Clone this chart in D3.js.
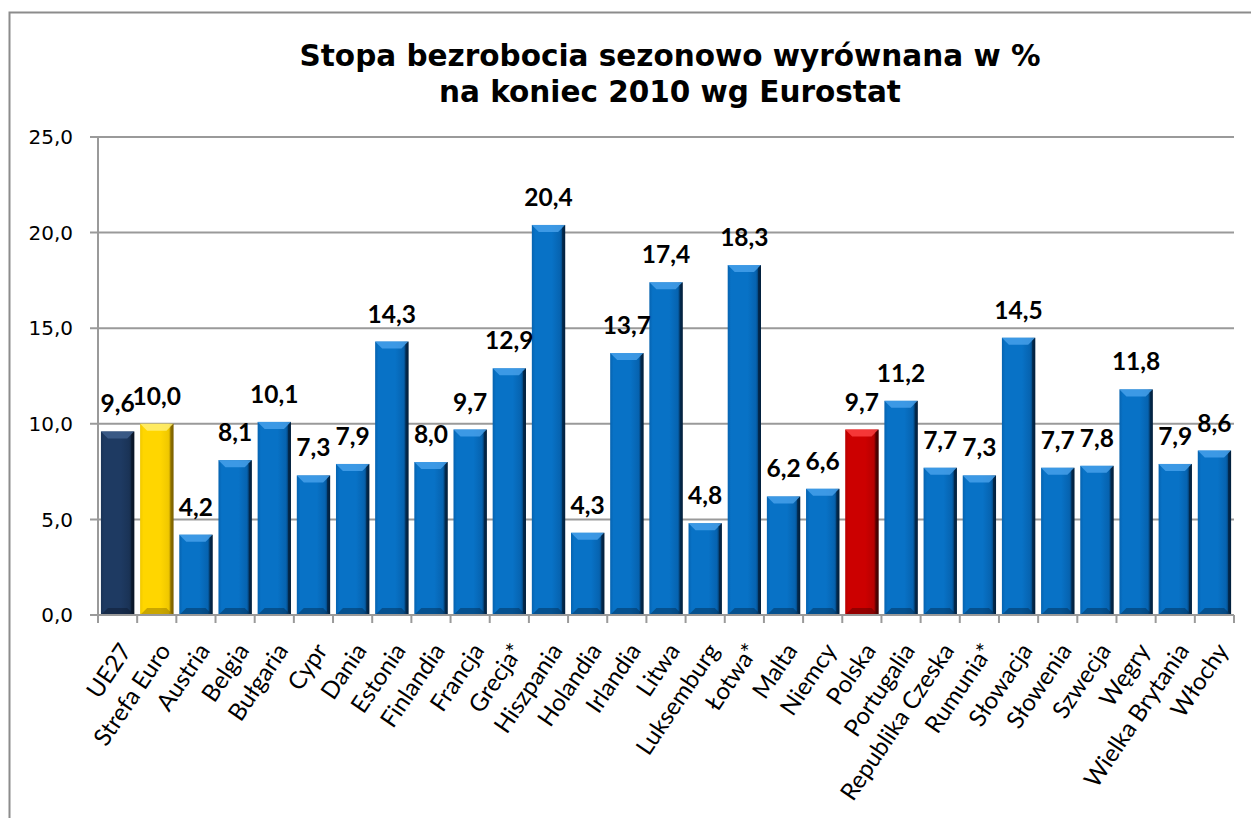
<!DOCTYPE html>
<html><head><meta charset="utf-8">
<script src="https://cdn.jsdelivr.net/npm/d3@7"></script>
<style>body{margin:0;background:#fff;}svg{display:block;}</style>
</head><body>
<script>
const categories = ["UE27","Strefa Euro","Austria","Belgia","Bułgaria","Cypr","Dania","Estonia","Finlandia","Francja","Grecja*","Hiszpania","Holandia","Irlandia","Litwa","Luksemburg","Łotwa*","Malta","Niemcy","Polska","Portugalia","Republika Czeska","Rumunia*","Słowacja","Słowenia","Szwecja","Węgry","Wielka Brytania","Włochy"];
const values = [9.6,10.0,4.2,8.1,10.1,7.3,7.9,14.3,8.0,9.7,12.9,20.4,4.3,13.7,17.4,4.8,18.3,6.2,6.6,9.7,11.2,7.7,7.3,14.5,7.7,7.8,11.8,7.9,8.6];
const yTicks = [0,5,10,15,20,25];
const titleLines = ["Stopa bezrobocia sezonowo wyrównana w %","na koniec 2010 wg Eurostat"];
const highlight = {"UE27":"navy","Strefa Euro":"gold","Polska":"red"};

const W=1251,H=818;
const svg=d3.select("body").append("svg").attr("width",W).attr("height",H);
svg.append("rect").attr("x",9.5).attr("y",12.5).attr("width",W).attr("height",H).attr("fill","#fff").attr("stroke","#8c8c8c").attr("stroke-width",2);

const m={left:98,right:1234,top:137,bottom:615};
const x=d3.scaleBand().domain(categories).range([m.left,m.right]).paddingInner(0.15).paddingOuter(0.075);
const y=d3.scaleLinear().domain([0,25]).range([m.bottom,m.top]);

const pal={
 blue:{base:"#0872c6",light:"#4aa3ec",dark:"#03203c",mid:"#0663b0"},
 navy:{base:"#1e3a62",light:"#41628f",dark:"#0a1526",mid:"#1a3356"},
 gold:{base:"#ffd600",light:"#fff07a",dark:"#7a6000",mid:"#f0c800"},
 red:{base:"#cc0000",light:"#ff4545",dark:"#420000",mid:"#b80000"}
};
const defs=svg.append("defs");
Object.entries(pal).forEach(([k,c])=>{
  const g=defs.append("linearGradient").attr("id","g-"+k).attr("x1",0).attr("x2",1).attr("y1",0).attr("y2",0);
  [[0,c.mid],[0.1,c.base],[0.6,c.base],[0.85,c.mid],[1,c.dark]].forEach(([o,col])=>g.append("stop").attr("offset",o).attr("stop-color",col));
});

const grid=svg.append("g");
yTicks.forEach(t=>{
  grid.append("line").attr("x1",m.left-8).attr("x2",m.right).attr("y1",y(t)).attr("y2",y(t)).attr("stroke","#9a9a9a").attr("stroke-width",2);
});
svg.append("line").attr("x1",m.left).attr("x2",m.left).attr("y1",m.top).attr("y2",m.bottom).attr("stroke","#9a9a9a").attr("stroke-width",2);
svg.append("g").selectAll("text").data(yTicks).join("text")
  .attr("x",m.left-25).attr("y",d=>y(d)).attr("dy","0.36em").attr("text-anchor","end")
  .attr("font-family","DejaVu Sans, Verdana, sans-serif").attr("font-size",20).attr("fill","#000")
  .text(d=>d3.format(".1f")(d).replace(".",","));

const bars=svg.append("g").selectAll("g").data(categories).join("g");
bars.each(function(c,i){
  const g=d3.select(this);
  const key=highlight[c]||"blue";
  const col=pal[key];
  const x0=x(c),bw=x.bandwidth(),y0=y(values[i]),y1=y(0);
  g.append("rect").attr("x",x0).attr("y",y0).attr("width",bw).attr("height",y1-y0).attr("fill","url(#g-"+key+")");
  const b=7;
  g.append("path").attr("d",`M${x0},${y0}L${x0+bw},${y0}L${x0+bw-b},${y0+b}L${x0+b},${y0+b}Z`).attr("fill",col.light).attr("opacity",0.8);
  g.append("path").attr("d",`M${x0},${y1}L${x0+bw},${y1}L${x0+bw-b},${y1-b}L${x0+b},${y1-b}Z`).attr("fill",col.dark).attr("opacity",0.4);
  g.append("path").attr("d",`M${x0+bw},${y0}L${x0+bw},${y1}L${x0+bw-3},${y1-3}L${x0+bw-3},${y0+3}Z`).attr("fill",col.dark).attr("opacity",0.7);
});

svg.append("line").attr("x1",m.left-8).attr("x2",m.right).attr("y1",m.bottom).attr("y2",m.bottom).attr("stroke","#9a9a9a").attr("stroke-width",2);
d3.range(categories.length+1).forEach(i=>{
  const xx=m.left+i*(m.right-m.left)/categories.length;
  svg.append("line").attr("x1",xx).attr("x2",xx).attr("y1",m.bottom).attr("y2",m.bottom+8).attr("stroke","#9a9a9a").attr("stroke-width",2);
});

svg.append("g").selectAll("text").data(categories).join("text")
  .attr("x",c=>x(c)+x.bandwidth()/2).attr("y",(c,i)=>y(values[i])-19)
  .attr("text-anchor","middle").attr("font-family","Lato, 'Open Sans', sans-serif").attr("font-weight","bold").attr("font-size",24.5)
  .text((c,i)=>d3.format(".1f")(values[i]).replace(".",","));

svg.append("g").selectAll("text").data(categories).join("text")
  .attr("transform",c=>`translate(${x(c)+x.bandwidth()/2+8},${m.bottom+31}) rotate(-56)`)
  .attr("text-anchor","end").attr("dy","0.35em")
  .attr("font-family","Lato, 'Open Sans', sans-serif").attr("font-size",24)
  .text(c=>c);

svg.append("g").selectAll("text").data(titleLines).join("text")
  .attr("x",670).attr("y",(d,i)=>66+i*36).attr("text-anchor","middle")
  .attr("font-family","DejaVu Sans, Verdana, sans-serif").attr("font-weight","bold").attr("font-size",29.5)
  .text(d=>d);
</script>
</body></html>
